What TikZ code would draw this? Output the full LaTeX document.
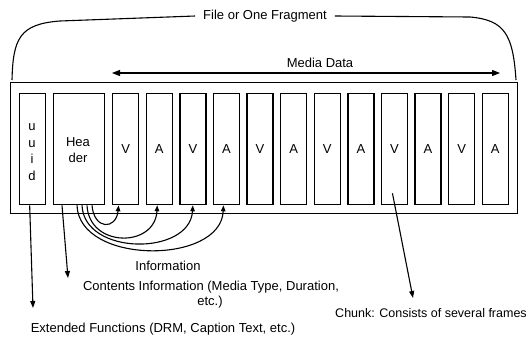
\documentclass[tikz,border=0pt]{standalone}
\usepackage{fontspec}
\setmainfont{Liberation Sans}
\usetikzlibrary{arrows.meta}
\begin{document}
\begin{tikzpicture}[x=1pt,y=-1pt,
  font=\fontsize{13}{14}\selectfont,
  cell/.style={draw, line width=1.3pt, minimum width=26pt, minimum height=111pt, inner sep=0pt, anchor=north west},
  lab/.style={inner sep=0pt},
  arr/.style={-{Triangle[length=7pt,width=5pt]}, line width=1.1pt},
  cur/.style={-{Triangle[length=6pt,width=4.5pt]}, line width=1.1pt}]
\useasboundingbox (0,0) rectangle (531,338);
% outer frame
\node[draw, line width=1.1pt, minimum width=507pt, minimum height=131pt, anchor=north west, inner sep=0pt] (outer) at (10,82) {};
% uuid and header
\node[cell] (uuid) at (19,93) {};
\node[lab, align=center, font=\fontsize{13}{16.7}\selectfont] (uuidt) at (32,152) {u\\u\\i\\d};
\node[cell, minimum width=51pt] (hdr) at (53,93) {};
\node[lab, align=center, font=\fontsize{13}{16}\selectfont] (hdrt) at (78,150) {Hea\\der};
% chunks
\foreach \i/\t in {1/V,2/A,3/V,4/A,5/V,6/A,7/V,8/A,9/V,10/A,11/V,12/A}{
  \node[cell] (c\i) at ({112+(\i-1)*33.6},93) {};
  \node[lab] at (c\i.center) {\t};
}
% File or One Fragment bracket
\node[lab] (fof) at (265,16) {File or One Fragment};
\coordinate (bl) at (12,80);
\coordinate (br) at (516,80);
\draw[line width=1.1pt] (bl) .. controls (13,38) and (20,24) .. (60,21) -- ([xshift=-8pt]fof.west);
\draw[line width=1.1pt] ([xshift=8pt]fof.east) -- (470,17) .. controls (505,20) and (513,35) .. (br);
% Media data
\node[lab] (md) at (320,63) {Media Data};
\coordinate (mdl) at (112,73);
\coordinate (mdr) at (500,73);
\draw[{Triangle[length=8pt,width=6pt]}-{Triangle[length=8pt,width=6pt]}, line width=1.1pt] (mdl) -- (mdr);
% header info curves
\draw[cur] ([xshift=39pt]hdr.south west) .. controls (94,230) and (116,230) .. ([xshift=-7pt]c1.south);
\draw[cur] ([xshift=34pt]hdr.south west) .. controls (89,248) and (155,248) .. ([xshift=-2pt]c2.south);
\draw[cur] ([xshift=29pt]hdr.south west) .. controls (84,256) and (190,256) .. ([xshift=0pt]c3.south);
\draw[cur] ([xshift=24pt]hdr.south west) .. controls (79,265) and (221,265) .. ([xshift=-3pt]c4.south);
% texts
\node[lab] (info) at (168,266) {Information};
\node[lab] (cinfo) at (211,287) {Contents Information (Media Type, Duration,};
\node[lab] (etc) at (210,302) {etc.)};
\node[lab] (ext) at (163,329) {Extended Functions (DRM, Caption Text, etc.)};
\node[lab, font=\fontsize{12.5}{14}\selectfont] (chunk) at (431,313) {Chunk: Consists of several frames};
% pointer arrows
\coordinate (uend) at (33,308);
\coordinate (hend) at (68,278);
\coordinate (cend) at (413,298);
\draw[arr] ([xshift=-3pt]uuid.south) -- (uend);
\draw[arr] ([xshift=9pt]hdr.south west) -- (hend);
\draw[arr] ([xshift=-2pt,yshift=12pt]c9.south) -- (cend);
\end{tikzpicture}
\end{document}
